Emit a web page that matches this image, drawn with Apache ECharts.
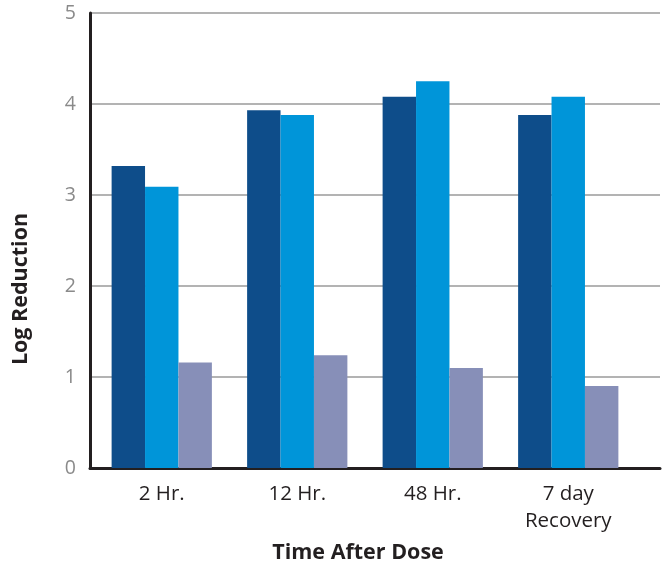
<!DOCTYPE html>
<html><head><meta charset="utf-8">
<script src="https://cdn.jsdelivr.net/npm/echarts@6/dist/echarts.min.js"></script>
<style>html,body{margin:0;padding:0;background:#fff}#c{width:665px;height:565px}</style>
</head><body><div id="c"></div>
<script>
const categories = ['2 Hr.', '12 Hr.', '48 Hr.', '7 day\nRecovery'];
const seriesA = [3.32, 3.93, 4.08, 3.88];
const seriesB = [3.09, 3.88, 4.25, 4.08];
const seriesC = [1.16, 1.24, 1.10, 0.90];
const yTicks = [0, 1, 2, 3, 4, 5];

const chart = echarts.init(document.getElementById('c'));
const font = '"Open Sans", sans-serif';
const yMin = yTicks[0], yMax = yTicks[yTicks.length - 1];
chart.setOption({
  animation: false,
  grid: [
    {left: 90, right: 5, top: 13, bottom: 97},
    {left: 94, right: 29, top: 13, bottom: 97}
  ],
  xAxis: [
    {gridIndex: 0, type: 'value', min: 0, max: 1,
     axisLine: {show: true, onZero: false, lineStyle: {color: '#231f20', width: 3}},
     axisTick: {show: false}, axisLabel: {show: false}, splitLine: {show: false}},
    {gridIndex: 1, type: 'category', data: categories,
     axisLine: {show: false}, axisTick: {show: false},
     axisLabel: {color: '#231f20', fontSize: 20.5, fontFamily: font, margin: 13, lineHeight: 27}}
  ],
  yAxis: [
    {gridIndex: 0, type: 'value', min: yMin, max: yMax, interval: 1,
     axisLine: {show: true, lineStyle: {color: '#231f20', width: 3}},
     axisTick: {show: false},
     splitLine: {lineStyle: {color: '#9a9a9a', width: 1.5}},
     axisLabel: {color: '#8a8a8a', fontSize: 19.5, fontFamily: font, margin: 14}},
    {gridIndex: 1, type: 'value', min: yMin, max: yMax, interval: 1,
     axisLine: {show: false}, axisTick: {show: false}, axisLabel: {show: false}, splitLine: {show: false}}
  ],
  graphic: [
    {type: 'text', x: 21, y: 289, rotation: Math.PI / 2,
     style: {text: 'Log Reduction', font: 'bold 21.5px ' + font, fill: '#231f20', align: 'center', verticalAlign: 'middle'}},
    {type: 'text', x: 358, y: 553,
     style: {text: 'Time After Dose', font: 'bold 21.5px ' + font, fill: '#231f20', align: 'center', verticalAlign: 'middle'}}
  ],
  series: [
    {type: 'bar', xAxisIndex: 1, yAxisIndex: 1, data: seriesA, itemStyle: {color: '#0e4d8a'}, barGap: '0%', barCategoryGap: '26%'},
    {type: 'bar', xAxisIndex: 1, yAxisIndex: 1, data: seriesB, itemStyle: {color: '#0095d9'}},
    {type: 'bar', xAxisIndex: 1, yAxisIndex: 1, data: seriesC, itemStyle: {color: '#878fb8'}}
  ]
});
</script></body></html>
